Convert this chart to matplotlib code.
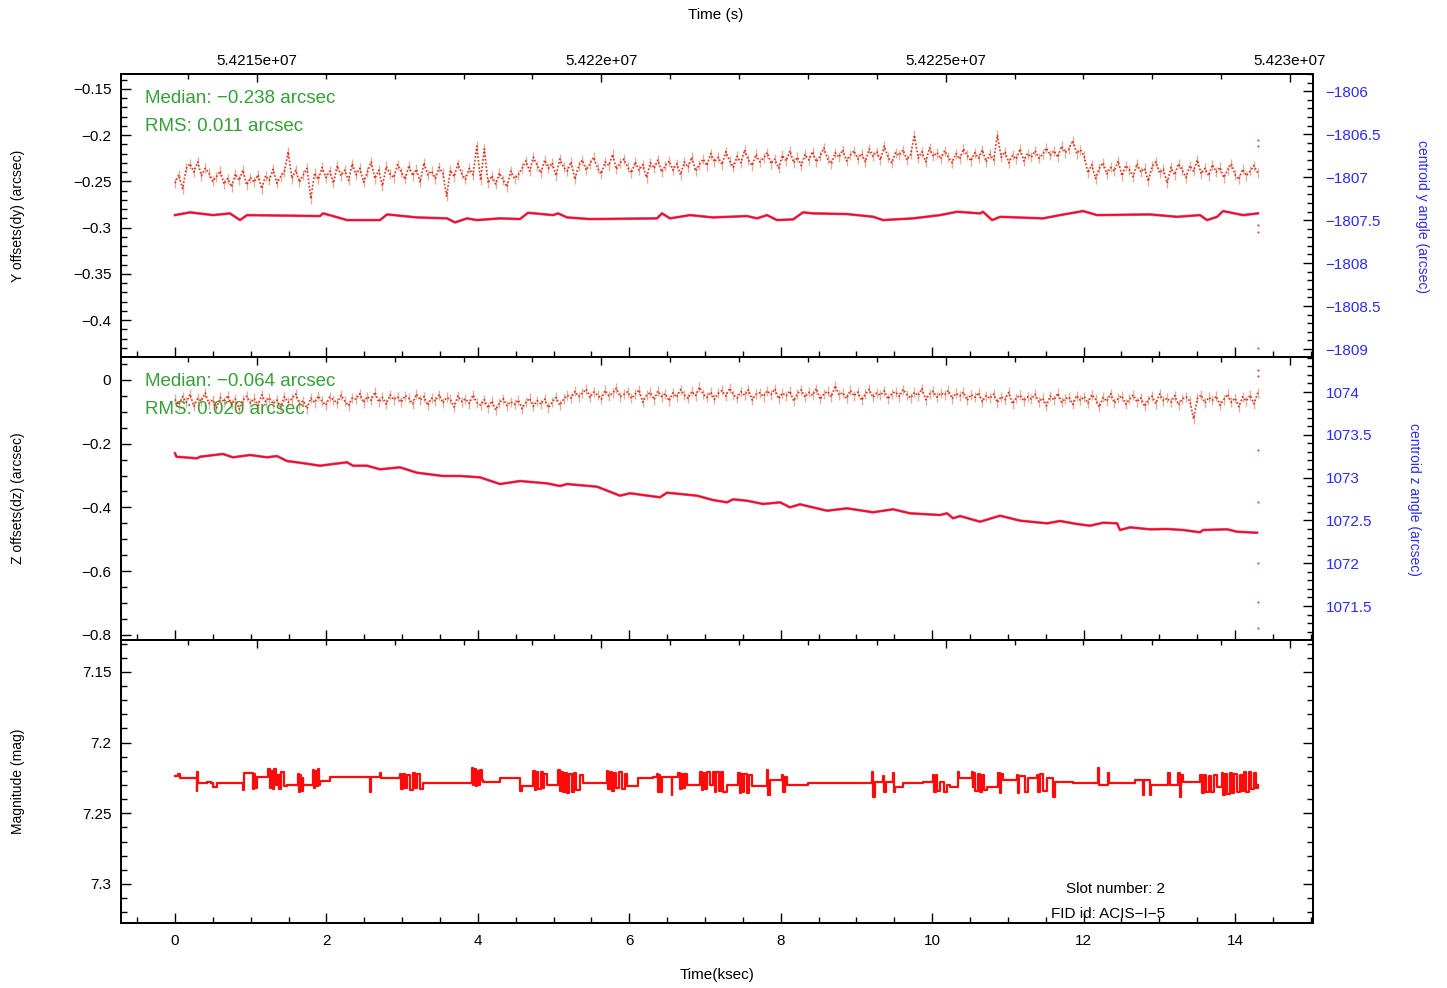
import numpy as np
import matplotlib
matplotlib.use('Agg')
import matplotlib.pyplot as plt
from matplotlib.ticker import MultipleLocator, FuncFormatter

plt.rcParams['font.family'] = ['Liberation Sans', 'DejaVu Sans']

# ---------------- data ----------------
T_END = 14.3  # ksec, last sample

dy = [-0.252, -0.243, -0.258, -0.236, -0.231, -0.240, -0.229, -0.244, -0.236, -0.241, -0.250, -0.245,
      -0.239, -0.253, -0.247, -0.256, -0.242, -0.249, -0.238, -0.254, -0.246, -0.251, -0.243, -0.258,
      -0.244, -0.249, -0.237, -0.252, -0.245, -0.240, -0.218, -0.247, -0.238, -0.251, -0.243, -0.236,
      -0.269, -0.241, -0.248, -0.235, -0.246, -0.239, -0.252, -0.233, -0.244, -0.238, -0.249, -0.231,
      -0.243, -0.236, -0.251, -0.240, -0.229, -0.247, -0.238, -0.255, -0.234, -0.242, -0.246, -0.232,
      -0.240, -0.248, -0.233, -0.244, -0.237, -0.251, -0.230, -0.243, -0.239, -0.247, -0.235, -0.241,
      -0.266, -0.238, -0.245, -0.231, -0.242, -0.248, -0.236, -0.243, -0.212, -0.249, -0.215, -0.252,
      -0.244, -0.253, -0.241, -0.249, -0.256, -0.239, -0.247, -0.243, -0.236, -0.228, -0.239, -0.224,
      -0.233, -0.241, -0.227, -0.236, -0.230, -0.244, -0.226, -0.235, -0.239, -0.229, -0.248, -0.233,
      -0.227, -0.238, -0.231, -0.224, -0.236, -0.242, -0.229, -0.233, -0.221, -0.237, -0.230, -0.226,
      -0.235, -0.241, -0.229, -0.238, -0.232, -0.246, -0.230, -0.236, -0.227, -0.240, -0.233, -0.228,
      -0.238, -0.231, -0.243, -0.229, -0.235, -0.224, -0.239, -0.232, -0.226, -0.233, -0.220, -0.229,
      -0.224, -0.232, -0.218, -0.228, -0.235, -0.223, -0.230, -0.216, -0.227, -0.233, -0.221, -0.229,
      -0.225, -0.219, -0.231, -0.226, -0.236, -0.222, -0.228, -0.217, -0.230, -0.224, -0.233, -0.221,
      -0.227, -0.218, -0.229, -0.223, -0.214, -0.226, -0.231, -0.219, -0.224, -0.216, -0.228, -0.222,
      -0.217, -0.226, -0.220, -0.229, -0.215, -0.223, -0.218, -0.227, -0.212, -0.224, -0.230, -0.219,
      -0.222, -0.216, -0.227, -0.221, -0.200, -0.225, -0.218, -0.229, -0.214, -0.223, -0.219, -0.226,
      -0.217, -0.224, -0.230, -0.220, -0.226, -0.215, -0.222, -0.228, -0.219, -0.225, -0.216, -0.229,
      -0.221, -0.227, -0.200, -0.224, -0.218, -0.230, -0.222, -0.226, -0.215, -0.228, -0.220, -0.224,
      -0.217, -0.225, -0.221, -0.214, -0.222, -0.217, -0.224, -0.212, -0.219, -0.215, -0.206, -0.220,
      -0.216, -0.223, -0.241, -0.232, -0.247, -0.236, -0.230, -0.242, -0.235, -0.239, -0.228, -0.244,
      -0.233, -0.238, -0.245, -0.231, -0.240, -0.236, -0.250, -0.234, -0.229, -0.241, -0.237, -0.252,
      -0.235, -0.243, -0.231, -0.238, -0.246, -0.233, -0.239, -0.227, -0.242, -0.236, -0.244, -0.232,
      -0.240, -0.235, -0.246, -0.238, -0.231, -0.243, -0.248, -0.237, -0.244, -0.239, -0.233, -0.241]

dz = [-0.061, -0.078, -0.052, -0.070, -0.045, -0.083, -0.058, -0.066, -0.041, -0.074, -0.062, -0.088,
      -0.055, -0.069, -0.049, -0.077, -0.060, -0.092, -0.064, -0.051, -0.072, -0.058, -0.080, -0.047,
      -0.068, -0.056, -0.075, -0.063, -0.085, -0.053, -0.070, -0.059, -0.044, -0.076, -0.065, -0.090,
      -0.057, -0.071, -0.050, -0.067, -0.079, -0.054, -0.062, -0.073, -0.048, -0.066, -0.081, -0.056,
      -0.060, -0.043, -0.071, -0.052, -0.064, -0.038, -0.069, -0.055, -0.076, -0.047, -0.062, -0.053,
      -0.070, -0.049, -0.058, -0.075, -0.044, -0.063, -0.052, -0.080, -0.057, -0.066, -0.046, -0.072,
      -0.055, -0.061, -0.085, -0.050, -0.068, -0.059, -0.074, -0.047, -0.071, -0.079, -0.062, -0.088,
      -0.066, -0.094, -0.072, -0.059, -0.081, -0.068, -0.077, -0.063, -0.090, -0.070, -0.058, -0.083,
      -0.065, -0.076, -0.060, -0.087, -0.069, -0.055, -0.079, -0.061, -0.048, -0.057, -0.036, -0.052,
      -0.041, -0.029, -0.055, -0.038, -0.047, -0.060, -0.033, -0.050, -0.042, -0.026, -0.053, -0.045,
      -0.037, -0.058, -0.044, -0.031, -0.070, -0.048, -0.039, -0.062, -0.035, -0.052, -0.043, -0.066,
      -0.040, -0.054, -0.030, -0.047, -0.058, -0.036, -0.049, -0.023, -0.044, -0.055, -0.038, -0.061,
      -0.042, -0.033, -0.051, -0.026, -0.046, -0.057, -0.037, -0.048, -0.031, -0.063, -0.045, -0.040,
      -0.052, -0.034, -0.046, -0.028, -0.059, -0.041, -0.050, -0.035, -0.066, -0.043, -0.031, -0.054,
      -0.039, -0.048, -0.027, -0.061, -0.044, -0.036, -0.053, -0.018, -0.047, -0.040, -0.058, -0.033,
      -0.050, -0.038, -0.064, -0.045, -0.029, -0.055, -0.041, -0.048, -0.034, -0.060, -0.043, -0.037,
      -0.052, -0.030, -0.046, -0.057, -0.039, -0.049, -0.027, -0.062, -0.044, -0.036, -0.054, -0.041,
      -0.047, -0.033, -0.059, -0.042, -0.050, -0.038, -0.064, -0.046, -0.055, -0.040, -0.068, -0.049,
      -0.058, -0.044, -0.071, -0.052, -0.062, -0.039, -0.075, -0.056, -0.048, -0.066, -0.053, -0.060,
      -0.045, -0.069, -0.057, -0.081, -0.050, -0.063, -0.042, -0.070, -0.059, -0.054, -0.077, -0.049,
      -0.064, -0.052, -0.073, -0.046, -0.060, -0.085, -0.055, -0.067, -0.043, -0.072, -0.058, -0.050,
      -0.076, -0.061, -0.047, -0.069, -0.056, -0.083, -0.062, -0.051, -0.074, -0.044, -0.065, -0.057,
      -0.070, -0.049, -0.078, -0.060, -0.053, -0.066, -0.122, -0.058, -0.047, -0.072, -0.055, -0.064,
      -0.051, -0.079, -0.062, -0.045, -0.070, -0.057, -0.084, -0.053, -0.066, -0.048, -0.075, -0.040]

# stray samples at the very end of the interval
dy_tail = [-0.205, -0.212, -0.297, -0.305, -0.430]
dz_tail = [0.030, 0.012, -0.220, -0.383, -0.574, -0.696, -0.778]

# centroid y angle (arcsec, right axis of top panel)
ycen_t = [0.000, 0.198, 0.502, 0.726, 0.859, 0.951, 1.915, 1.955, 2.087, 2.272, 2.708, 2.800,
          3.196, 3.593, 3.698, 3.857, 3.989, 4.293, 4.557, 4.662, 4.993, 5.059, 5.178, 5.481,
          6.366, 6.432, 6.538, 6.802, 7.106, 7.555, 7.687, 7.819, 7.951, 8.163, 8.295, 8.427,
          8.876, 9.219, 9.351, 9.748, 10.104, 10.329, 10.633, 10.672, 10.791, 10.897, 11.465, 11.689,
          11.993, 12.178, 12.878, 13.235, 13.538, 13.631, 13.763, 13.842, 14.106, 14.304]
ycen_v = [-1807.442, -1807.410, -1807.442, -1807.422, -1807.500, -1807.442, -1807.453, -1807.422,
          -1807.453, -1807.500, -1807.500, -1807.434, -1807.469, -1807.480, -1807.527, -1807.480,
          -1807.500, -1807.480, -1807.488, -1807.415, -1807.442, -1807.422, -1807.469, -1807.488,
          -1807.480, -1807.422, -1807.480, -1807.442, -1807.469, -1807.453, -1807.480, -1807.442,
          -1807.500, -1807.492, -1807.410, -1807.422, -1807.430, -1807.461, -1807.500, -1807.480,
          -1807.442, -1807.403, -1807.422, -1807.403, -1807.500, -1807.462, -1807.480, -1807.442,
          -1807.395, -1807.442, -1807.434, -1807.462, -1807.442, -1807.500, -1807.462, -1807.395,
          -1807.442, -1807.422]

# centroid z angle (arcsec, right axis of middle panel)
zcen_t = [0.000, 0.020, 0.291, 0.330, 0.634, 0.766, 0.991, 1.215, 1.347, 1.479, 1.651, 1.915,
          2.087, 2.272, 2.351, 2.536, 2.708, 2.972, 3.196, 3.540, 3.764, 4.028, 4.293, 4.557,
          4.913, 5.085, 5.178, 5.574, 5.878, 6.010, 6.406, 6.498, 6.895, 7.106, 7.291, 7.370,
          7.555, 7.766, 7.991, 8.123, 8.255, 8.612, 8.876, 9.219, 9.484, 9.708, 10.104, 10.197,
          10.276, 10.369, 10.633, 10.897, 11.161, 11.518, 11.689, 11.914, 12.085, 12.257, 12.442,
          12.481, 12.614, 12.878, 13.103, 13.314, 13.538, 13.578, 13.895, 14.027, 14.291]
zcen_v = [1073.284, 1073.244, 1073.225, 1073.244, 1073.276, 1073.237, 1073.264, 1073.237, 1073.252,
          1073.194, 1073.174, 1073.139, 1073.159, 1073.179, 1073.139, 1073.139, 1073.097, 1073.120,
          1073.057, 1073.019, 1073.019, 1073.003, 1072.925, 1072.960, 1072.933, 1072.902, 1072.925,
          1072.894, 1072.789, 1072.817, 1072.770, 1072.824, 1072.789, 1072.738, 1072.711, 1072.746,
          1072.730, 1072.692, 1072.711, 1072.653, 1072.688, 1072.613, 1072.641, 1072.595, 1072.630,
          1072.583, 1072.563, 1072.583, 1072.525, 1072.551, 1072.485, 1072.555, 1072.497, 1072.466,
          1072.493, 1072.458, 1072.438, 1072.473, 1072.466, 1072.388, 1072.419, 1072.396, 1072.400,
          1072.388, 1072.361, 1072.388, 1072.396, 1072.368, 1072.356]

# magnitude (step series with flicker)
mag_t = [0.000, 0.040, 0.066, 0.286, 0.292, 0.300, 0.420, 0.470, 0.506, 0.550, 0.903, 0.916,
         1.030, 1.040, 1.060, 1.079, 1.233, 1.250, 1.270, 1.290, 1.310, 1.330, 1.350, 1.370,
         1.400, 1.440, 1.475, 1.629, 1.640, 1.655, 1.670, 1.685, 1.695, 1.827, 1.840, 1.855,
         1.870, 1.885, 1.900, 1.915, 2.047, 2.576, 2.590, 2.708, 2.720, 2.972, 2.990, 3.010,
         3.040, 3.070, 3.100, 3.148, 3.170, 3.200, 3.240, 3.280, 3.765, 3.919, 3.935, 3.950,
         3.970, 3.990, 4.010, 4.030, 4.060, 4.073, 4.293, 4.557, 4.579, 4.733, 4.750, 4.770,
         4.800, 4.830, 4.860, 4.880, 4.909, 5.063, 5.080, 5.100, 5.120, 5.150, 5.180, 5.210,
         5.240, 5.270, 5.300, 5.349, 5.393, 5.702, 5.720, 5.745, 5.770, 5.800, 5.830, 5.860,
         5.900, 5.940, 5.966, 6.120, 6.318, 6.362, 6.375, 6.390, 6.410, 6.428, 6.560, 6.570,
         6.648, 6.670, 6.690, 6.720, 6.740, 6.758, 6.935, 6.955, 6.975, 7.000, 7.030, 7.067,
         7.111, 7.130, 7.150, 7.180, 7.210, 7.240, 7.287, 7.441, 7.460, 7.480, 7.500, 7.520,
         7.550, 7.580, 7.617, 7.815, 7.835, 7.859, 8.014, 8.030, 8.050, 8.080, 8.366, 9.004,
         9.203, 9.220, 9.247, 9.357, 9.370, 9.385, 9.489, 9.500, 9.515, 9.621, 9.885, 10.017,
         10.030, 10.050, 10.070, 10.105, 10.150, 10.200, 10.236, 10.346, 10.360, 10.522, 10.535,
         10.544, 10.570, 10.600, 10.630, 10.660, 10.690, 10.721, 10.875, 10.890, 10.910, 10.941,
         11.117, 11.130, 11.150, 11.230, 11.271, 11.381, 11.400, 11.430, 11.460, 11.513, 11.601,
         11.623, 11.865, 12.195, 12.210, 12.327, 12.340, 12.680, 12.790, 12.800, 12.878, 12.890,
         13.120, 13.135, 13.252, 13.270, 13.290, 13.318, 13.538, 13.560, 13.590, 13.620, 13.650,
         13.680, 13.720, 13.758, 13.824, 13.845, 13.870, 13.900, 13.930, 13.960, 13.990, 14.030,
         14.066, 14.090, 14.120, 14.150, 14.180, 14.210, 14.250, 14.280, 14.308]
mag_v = [7.2235, 7.2225, 7.2250, 7.2340, 7.2205, 7.2287, 7.2275, 7.2287, 7.2311, 7.2283, 7.2334, 7.2216,
         7.2330, 7.2220, 7.2320, 7.2240, 7.2190, 7.2320, 7.2200, 7.2330, 7.2185, 7.2300, 7.2230, 7.2325,
         7.2210, 7.2310, 7.2299, 7.2220, 7.2346, 7.2230, 7.2340, 7.2250, 7.2299, 7.2193, 7.2320, 7.2200,
         7.2310, 7.2190, 7.2300, 7.2270, 7.2240, 7.2346, 7.2240, 7.2216, 7.2252, 7.2225, 7.2330, 7.2220,
         7.2320, 7.2230, 7.2335, 7.2216, 7.2320, 7.2222, 7.2330, 7.2283, 7.2287, 7.2181, 7.2300, 7.2190,
         7.2310, 7.2200, 7.2300, 7.2193, 7.2264, 7.2275, 7.2252, 7.2340, 7.2305, 7.2200, 7.2334, 7.2205,
         7.2330, 7.2210, 7.2320, 7.2220, 7.2299, 7.2193, 7.2340, 7.2205, 7.2350, 7.2215, 7.2358, 7.2225,
         7.2346, 7.2216, 7.2334, 7.2230, 7.2287, 7.2200, 7.2330, 7.2210, 7.2340, 7.2215, 7.2320, 7.2205,
         7.2330, 7.2220, 7.2305, 7.2252, 7.2240, 7.2220, 7.2346, 7.2230, 7.2350, 7.2240, 7.2370, 7.2240,
         7.2216, 7.2330, 7.2220, 7.2322, 7.2225, 7.2299, 7.2205, 7.2334, 7.2216, 7.2330, 7.2210, 7.2299,
         7.2205, 7.2346, 7.2210, 7.2340, 7.2205, 7.2346, 7.2299, 7.2216, 7.2358, 7.2225, 7.2350, 7.2220,
         7.2358, 7.2230, 7.2305, 7.2193, 7.2370, 7.2264, 7.2228, 7.2346, 7.2240, 7.2299, 7.2283, 7.2287,
         7.2205, 7.2382, 7.2275, 7.2235, 7.2346, 7.2275, 7.2216, 7.2346, 7.2311, 7.2287, 7.2275, 7.2228,
         7.2346, 7.2230, 7.2340, 7.2275, 7.2346, 7.2300, 7.2311, 7.2205, 7.2252, 7.2205, 7.2311,
         7.2216, 7.2340, 7.2220, 7.2346, 7.2230, 7.2335, 7.2311, 7.2216, 7.2358, 7.2225, 7.2264,
         7.2228, 7.2358, 7.2235, 7.2350, 7.2252, 7.2228, 7.2346, 7.2225, 7.2340, 7.2252, 7.2382,
         7.2275, 7.2287, 7.2181, 7.2299, 7.2216, 7.2287, 7.2264, 7.2370, 7.2264, 7.2370, 7.2299,
         7.2216, 7.2299, 7.2216, 7.2382, 7.2230, 7.2275, 7.2228, 7.2358, 7.2230, 7.2350, 7.2235,
         7.2346, 7.2228, 7.2311, 7.2216, 7.2370, 7.2220, 7.2360, 7.2216, 7.2358, 7.2225, 7.2350,
         7.2228, 7.2340, 7.2205, 7.2346, 7.2210, 7.2330, 7.2216, 7.2320, 7.2299]

median_dy, rms_dy = -0.238, 0.011
median_dz, rms_dz = -0.064, 0.020
slot_number = 2
fid_id = 'ACIS\u2212I\u22125'

t_noisy = np.linspace(0.0, T_END, len(dy))

# ---------------- figure ----------------
W, H = 1447, 988
fig = plt.figure(figsize=(W / 100, H / 100), dpi=100)
L, R = 121 / W, 1313 / W


def rect(top, bot):
    return [L, 1 - bot / H, R - L, (bot - top) / H]


ax1 = fig.add_axes(rect(74, 357))
ax2 = fig.add_axes(rect(357, 640))
ax3 = fig.add_axes(rect(640, 923))

XLIM = (-0.713, 15.03)
SLIM = (54213025, 54230334)
GREEN = '#35a035'
BLUE = '#2b2bff'
DOT = '#e0301a'
DOT2 = '#c8704c'


def gfmt(v, pos=None):
    s = '%g' % v
    return s.replace('-', '\u2212')


FS = 11
for ax in (ax1, ax2, ax3):
    for sp in ax.spines.values():
        sp.set_linewidth(1.4)

# x axes (ksec at bottom, seconds at top)
for ax in (ax1, ax2, ax3):
    ax.set_xlim(*XLIM)
    axt = ax.twiny()
    axt.set_xlim(*SLIM)
    axt.xaxis.set_major_locator(MultipleLocator(5000))
    axt.xaxis.set_minor_locator(MultipleLocator(1000))
    axt.xaxis.set_major_formatter(FuncFormatter(gfmt))
    axt.tick_params(axis='x', which='both', direction='in', top=True, bottom=False,
                    labeltop=(ax is ax1), labelbottom=False, labelsize=FS, pad=4)
    axt.tick_params(axis='x', which='major', length=6, width=1)
    axt.tick_params(axis='x', which='minor', length=3.5, width=1)
    for sp in axt.spines.values():
        sp.set_linewidth(1.4)
    ax.xaxis.set_major_locator(MultipleLocator(2))
    ax.xaxis.set_minor_locator(MultipleLocator(0.5))
    ax.xaxis.set_major_formatter(FuncFormatter(gfmt))
    ax.tick_params(axis='x', which='both', direction='in', bottom=True, top=False,
                   labelbottom=(ax is ax3), labelsize=FS, pad=8)
    ax.tick_params(axis='x', which='major', length=7, width=1)
    ax.tick_params(axis='x', which='minor', length=4, width=1)


def noisy(ax, t, v):
    ax.plot(t, v, ls='none', marker='|', ms=7, mew=1.0, color=DOT2, alpha=0.55, zorder=2)
    ax.plot(t, v, ls=(0, (1, 1.2)), lw=1.2, color=DOT, zorder=2)


# ---------- top panel ----------
noisy(ax1, t_noisy, dy)
ax1.plot([T_END] * len(dy_tail), dy_tail, ls='none', marker='s', ms=1.3, mew=0, color=DOT)
ax1.set_ylim(-0.44, -0.134)
ax1.yaxis.set_major_locator(MultipleLocator(0.05))
ax1.yaxis.set_minor_locator(MultipleLocator(0.01))
ax1.yaxis.set_major_formatter(FuncFormatter(gfmt))
ax1r = ax1.twinx()
ax1r.plot(ycen_t, ycen_v, color='#9a40d0', lw=2.0, alpha=0.7, zorder=1)
ax1r.plot(ycen_t, ycen_v, color='#ff0a0a', lw=1.3, zorder=2)
ax1r.set_ylim(-1809.093, -1805.80)
ax1r.yaxis.set_major_locator(MultipleLocator(0.5))
ax1r.yaxis.set_minor_locator(MultipleLocator(0.1))
ax1r.yaxis.set_major_formatter(FuncFormatter(gfmt))

# ---------- middle panel ----------
noisy(ax2, t_noisy, dz)
ax2.plot([T_END] * len(dz_tail), dz_tail, ls='none', marker='s', ms=1.3, mew=0, color=DOT)
ax2.set_ylim(-0.816, 0.072)
ax2.yaxis.set_major_locator(MultipleLocator(0.2))
ax2.yaxis.set_minor_locator(MultipleLocator(0.05))
ax2.yaxis.set_major_formatter(FuncFormatter(gfmt))
ax2r = ax2.twinx()
ax2r.plot(zcen_t, zcen_v, color='#9a40d0', lw=2.0, alpha=0.7, zorder=1)
ax2r.plot(zcen_t, zcen_v, color='#ff0a0a', lw=1.3, zorder=2)
ax2r.set_ylim(1071.103, 1074.409)
ax2r.yaxis.set_major_locator(MultipleLocator(0.5))
ax2r.yaxis.set_minor_locator(MultipleLocator(0.1))
ax2r.yaxis.set_major_formatter(FuncFormatter(gfmt))

# ---------- bottom panel ----------
ax3.plot(mag_t, mag_v, color='#ff0a0a', lw=1.6, drawstyle='steps-post')
ax3.set_ylim(7.3276, 7.1274)
ax3.yaxis.set_major_locator(MultipleLocator(0.05))
ax3.yaxis.set_minor_locator(MultipleLocator(0.01))
ax3.yaxis.set_major_formatter(FuncFormatter(gfmt))

for ax in (ax1, ax2, ax3):
    ax.tick_params(axis='y', which='both', direction='in', left=True, labelsize=FS, pad=7)
    ax.tick_params(axis='y', which='major', length=7, width=1)
    ax.tick_params(axis='y', which='minor', length=4, width=1)
ax3.tick_params(axis='y', which='both', right=True)
for axr in (ax1r, ax2r):
    axr.tick_params(axis='y', which='both', direction='in', right=True, left=False,
                    labelsize=FS, labelcolor=BLUE, pad=9)
    axr.tick_params(axis='y', which='major', length=7, width=1)
    axr.tick_params(axis='y', which='minor', length=4, width=1)
    for sp in axr.spines.values():
        sp.set_linewidth(1.4)

# ---------- annotations ----------
ax1.text(0.020, 0.915, 'Median: %s arcsec' % gfmt(median_dy), transform=ax1.transAxes,
         color=GREEN, fontsize=13.5, ha='left', va='center', zorder=5)
ax1.text(0.020, 0.813, 'RMS: %.3f arcsec' % rms_dy, transform=ax1.transAxes,
         color=GREEN, fontsize=13.5, ha='left', va='center', zorder=5)
ax2.text(0.020, 0.912, 'Median: %s arcsec' % gfmt(median_dz), transform=ax2.transAxes,
         color=GREEN, fontsize=13.5, ha='left', va='center', zorder=1)
ax2.text(0.020, 0.813, 'RMS: %.3f arcsec' % rms_dz, transform=ax2.transAxes,
         color=GREEN, fontsize=13.5, ha='left', va='center', zorder=1)

ax3.text(0.834, 0.120, 'Slot number: %d' % slot_number, transform=ax3.transAxes,
         fontsize=11, ha='center', va='center')
ax3.text(0.828, 0.033, 'FID id: %s' % fid_id, transform=ax3.transAxes,
         fontsize=11, ha='center', va='center')

fig.text(18 / W, 1 - 215.5 / H, 'Y offsets(dy) (arcsec)', rotation=90, fontsize=10,
         ha='center', va='center')
fig.text(18 / W, 1 - 498.5 / H, 'Z offsets(dz) (arcsec)', rotation=90, fontsize=10,
         ha='center', va='center')
fig.text(18 / W, 1 - 781.5 / H, 'Magnitude (mag)', rotation=90, fontsize=10,
         ha='center', va='center')
fig.text(1422 / W, 1 - 216 / H, 'centroid y angle (arcsec)', rotation=-90, fontsize=10,
         color=BLUE, ha='center', va='center')
fig.text(1414 / W, 1 - 499 / H, 'centroid z angle (arcsec)', rotation=-90, fontsize=10,
         color=BLUE, ha='center', va='center')
fig.text(716 / W, 1 - 15 / H, 'Time (s)', fontsize=11, ha='center', va='center')
fig.text(717 / W, 1 - 975 / H, 'Time(ksec)', fontsize=11, ha='center', va='center')

fig.savefig('out.png', dpi=100)
